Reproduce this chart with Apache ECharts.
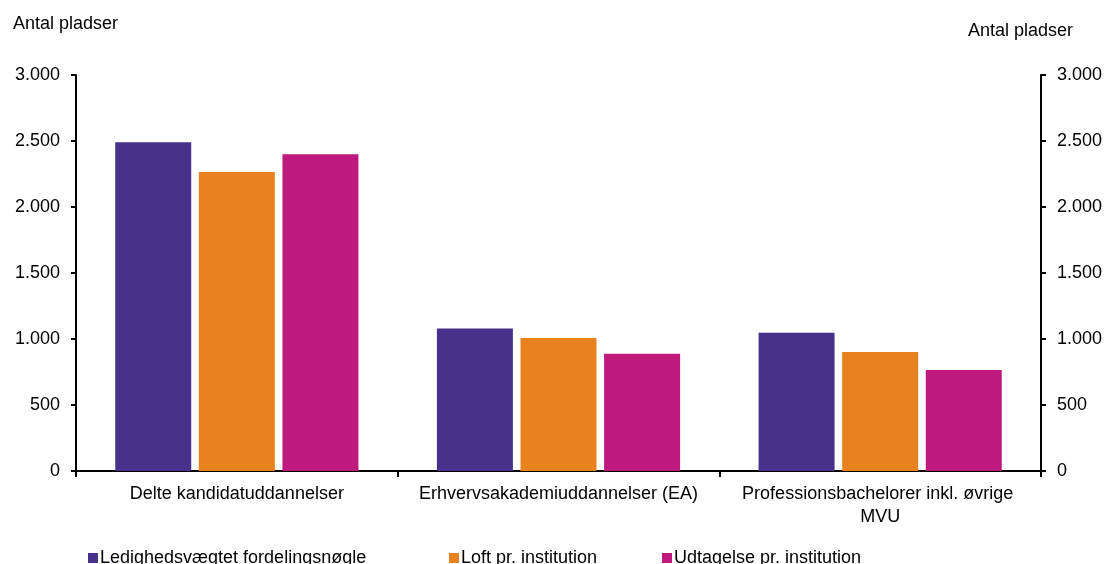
<!DOCTYPE html>
<html><head><meta charset="utf-8">
<script src="https://cdn.jsdelivr.net/npm/echarts@6/dist/echarts.min.js"></script>
<style>html,body{margin:0;padding:0;background:#fff}#c{width:1106px;height:564px}</style>
</head><body><div id="c"></div>
<script>
const categories = ["Delte kandidatuddannelser", "Erhvervsakademiuddannelser (EA)", "Professionsbachelorer inkl. øvrige MVU"];
const seriesNames = ["Ledighedsvægtet fordelingsnøgle", "Loft pr. institution", "Udtagelse pr. institution"];
const fordeling = [2490, 1080, 1048];
const loft = [2265, 1008, 902];
const udtagelse = [2400, 888, 765];
const colors = ["#46328A", "#E8821E", "#BE1A7E"];
const axisTitle = "Antal pladser";

const font = "Liberation Sans, Arial, sans-serif";
const fmt = v => String(v).replace(/\B(?=(\d{3})+(?!\d))/g, ".");
const chart = echarts.init(document.getElementById('c'));
const yAx = (pos) => ({
  type: 'value', position: pos, min: 0, max: 3000, interval: 500,
  splitLine: {show: false},
  axisLine: {show: true, lineStyle: {color: '#000', width: 2}},
  axisTick: {show: true, length: 5, lineStyle: {color: '#000', width: 2}},
  axisLabel: {color: '#000', fontSize: 18, fontFamily: font, margin: 16, formatter: fmt}
});
const legendAt = (i, left) => ({
  data: [seriesNames[i]], left: left, top: 544, itemWidth: 10, itemHeight: 10, itemGap: 0,
  icon: 'rect', textStyle: {color: '#000', fontSize: 18, fontFamily: font, padding: [0,0,0,-3]}
});
chart.setOption({
  animation: false,
  color: colors,
  grid: {left: 76, right: 65, top: 75, bottom: 93},
  graphic: [
    {type: 'text', left: 13, top: 15, style: {text: axisTitle, fontSize: 18, fontFamily: font, fill: '#000'}},
    {type: 'text', left: 968, top: 22, style: {text: axisTitle, fontSize: 18, fontFamily: font, fill: '#000'}}
  ],
  legend: [legendAt(0, 83), legendAt(1, 444), legendAt(2, 657)],
  xAxis: {
    type: 'category', data: categories,
    axisLine: {lineStyle: {color: '#000', width: 2}},
    axisTick: {show: true, length: 6, lineStyle: {color: '#000', width: 2}},
    axisLabel: {color: '#000', fontSize: 18, fontFamily: font, margin: 12, width: 305, overflow: 'break', lineHeight: 23, interval: 0}
  },
  yAxis: [yAx('left'), yAx('right')],
  series: [
    {name: seriesNames[0], type: 'bar', data: fordeling, barWidth: 76, barGap: '10%'},
    {name: seriesNames[1], type: 'bar', data: loft, barWidth: 76, barGap: '10%'},
    {name: seriesNames[2], type: 'bar', data: udtagelse, barWidth: 76, barGap: '10%'}
  ]
});
</script></body></html>
